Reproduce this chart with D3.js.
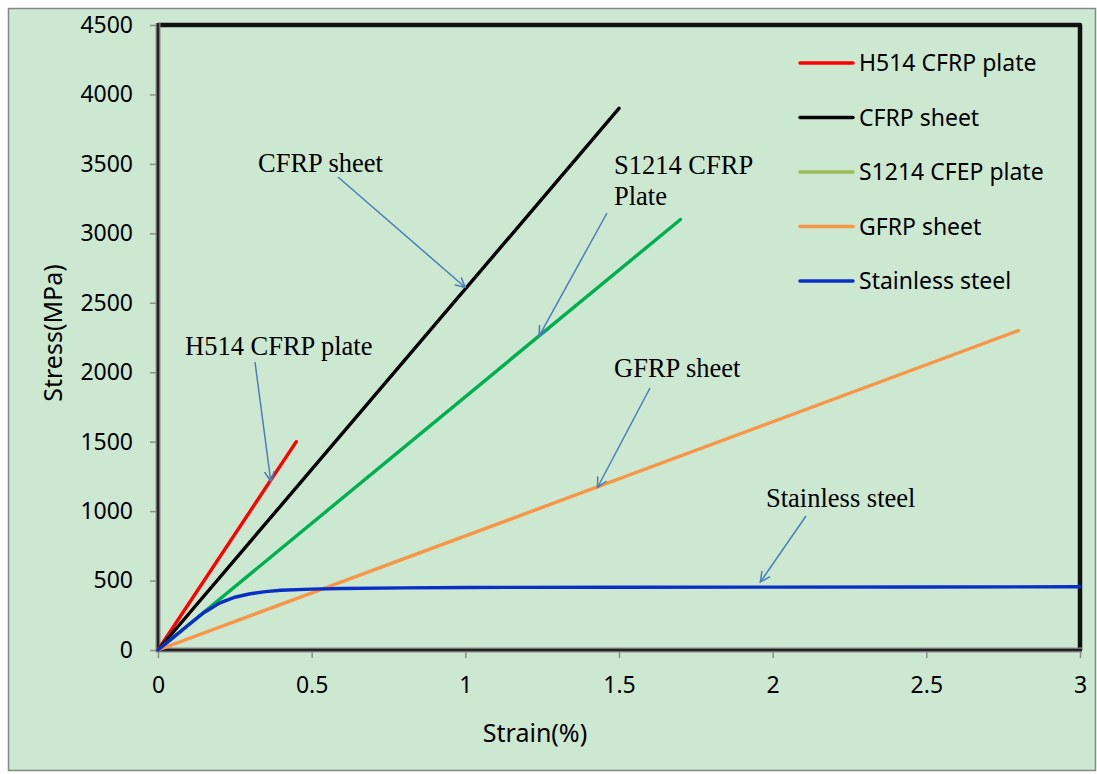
<!DOCTYPE html>
<html>
<head>
<meta charset="utf-8">
<script src="https://cdn.jsdelivr.net/npm/d3@7"></script>
<style>
  body { margin: 0; background: #fff; }
  svg { display: block; }
</style>
</head>
<body>
<svg id="chart"></svg>
<script>
var width = 1097;
var height = 774;

// series values (strain %, stress MPa)
var h514Strain = [0, 0.45];
var h514Stress = [0, 1500];
var cfrpStrain = [0, 1.5];
var cfrpStress = [0, 3900];
var s1214Strain = [0, 1.7];
var s1214Stress = [0, 3100];
var gfrpStrain = [0, 2.8];
var gfrpStress = [0, 2300];
var steelStrain = [0, 0.05, 0.1, 0.15, 0.2, 0.25, 0.3, 0.35, 0.4, 0.5, 0.6, 0.8, 1.0, 1.5, 2.0, 2.5, 3.0];
var steelStress = [0, 91, 182, 270, 338, 380, 405, 420, 430, 438, 443, 447, 450, 452, 453, 454, 455];

var seriesNames = ["H514 CFRP plate", "CFRP sheet", "S1214 CFEP plate", "GFRP sheet", "Stainless steel"];
var xTicks = [0, 0.5, 1, 1.5, 2, 2.5, 3];
var yTicks = [0, 500, 1000, 1500, 2000, 2500, 3000, 3500, 4000, 4500];

var series = [
    {name: seriesNames[0], xs: h514Strain, ys: h514Stress, color: "#ff0000", key: "#ff0000"},
    {name: seriesNames[1], xs: cfrpStrain, ys: cfrpStress, color: "#000000", key: "#000000"},
    {name: seriesNames[2], xs: s1214Strain, ys: s1214Stress, color: "#00b050", key: "#9bbb59"},
    {name: seriesNames[3], xs: gfrpStrain, ys: gfrpStress, color: "#f79646", key: "#f79646"},
    {name: seriesNames[4], xs: steelStrain, ys: steelStress, color: "#0a2fc4", key: "#0a2fc4"}
];

// annotation callouts: label lines, where text sits, arrow from / to (data coords for the tip)
var notes = [
    {lines: ["CFRP sheet"], tx: 258, ty: 172, from: [338, 177], to: [1.0, 2610]},
    {lines: ["S1214 CFRP", "Plate"], tx: 614, ty: 174, from: [607, 213], to: [1.24, 2260]},
    {lines: ["H514 CFRP plate"], tx: 185, ty: 355, from: [255, 362], to: [0.367, 1215]},
    {lines: ["GFRP sheet"], tx: 614, ty: 377, from: [650, 388], to: [1.43, 1170]},
    {lines: ["Stainless steel"], tx: 766, ty: 507, from: [806, 516], to: [1.96, 490]}
];

var plot = {left: 158, top: 25, right: 1080, bottom: 650};

var svg = d3.select("#chart").attr("width", width).attr("height", height);

svg.append("rect")
    .attr("x", 8.5).attr("y", 8.5)
    .attr("width", 1087).attr("height", 762)
    .attr("fill", "#cde8d0")
    .attr("stroke", "#878787")
    .attr("stroke-width", 1.5);

var x = d3.scaleLinear().domain([0, 3]).range([plot.left, plot.right]);
var y = d3.scaleLinear().domain([0, 4500]).range([plot.bottom, plot.top]);

svg.append("defs").append("marker")
    .attr("id", "arrow")
    .attr("viewBox", "-10 -6 12 12")
    .attr("refX", 0)
    .attr("refY", 0)
    .attr("markerWidth", 12)
    .attr("markerHeight", 12)
    .attr("markerUnits", "userSpaceOnUse")
    .attr("orient", "auto")
    .append("path")
    .attr("fill", "none")
    .attr("stroke", "#4a7ebb")
    .attr("stroke-width", 1.5)
    .attr("d", "M-10,-5L0,0L-10,5");

// frame: thick black on top and right
svg.append("path")
    .attr("d", "M" + plot.left + "," + plot.top + "H" + plot.right + "V" + plot.bottom)
    .attr("fill", "none")
    .attr("stroke", "#111")
    .attr("stroke-width", 4.5)
    .attr("stroke-linejoin", "round");

var yAxis = svg.append("g")
    .attr("transform", "translate(" + plot.left + ",0)")
    .call(d3.axisLeft(y).tickValues(yTicks).tickSize(8).tickPadding(17).tickFormat(d3.format("d")));

var xAxis = svg.append("g")
    .attr("transform", "translate(0," + plot.bottom + ")")
    .call(d3.axisBottom(x).tickValues(xTicks).tickSize(8).tickPadding(19).tickFormat(function(d) { return String(d); }));

[yAxis, xAxis].forEach(function(ax) {
    ax.select(".domain").remove();
    ax.selectAll(".tick line").attr("stroke", "#8c8c8c").attr("stroke-width", 1.5);
    ax.selectAll(".tick text")
        .attr("fill", "#000")
        .style("font-family", "'Noto Sans', sans-serif")
        .style("font-size", "23px");
});

// left and bottom axis lines: dark with grey edge
var axisPath = "M" + plot.left + "," + (plot.top - 2) + "V" + plot.bottom + "H" + (plot.right + 2);
svg.append("path").attr("d", axisPath).attr("fill", "none")
    .attr("stroke", "#8c8c8c").attr("stroke-width", 5);
svg.append("path").attr("d", axisPath).attr("fill", "none")
    .attr("stroke", "#222").attr("stroke-width", 2.5);

var line = d3.line()
    .x(function(d) { return x(d[0]); })
    .y(function(d) { return y(d[1]); });

svg.append("g").selectAll("path")
    .data(series)
    .enter().append("path")
    .attr("d", function(s) { return line(s.xs.map(function(v, i) { return [v, s.ys[i]]; })); })
    .attr("fill", "none")
    .attr("stroke", function(s) { return s.color; })
    .attr("stroke-width", 3.4)
    .attr("stroke-linecap", "round");

// callouts
var note = svg.append("g").selectAll("g").data(notes).enter().append("g");
note.append("line")
    .attr("x1", function(d) { return d.from[0]; })
    .attr("y1", function(d) { return d.from[1]; })
    .attr("x2", function(d) { return x(d.to[0]); })
    .attr("y2", function(d) { return y(d.to[1]); })
    .attr("stroke", "#4a7ebb")
    .attr("stroke-width", 1.5)
    .attr("marker-end", "url(#arrow)");
note.each(function(d) {
    var t = d3.select(this).append("text")
        .attr("x", d.tx).attr("y", d.ty)
        .style("font-family", "'Liberation Serif', 'Times New Roman', serif")
        .style("font-size", "26.5px")
        .attr("fill", "#000");
    d.lines.forEach(function(l, i) {
        t.append("tspan").attr("x", d.tx).attr("dy", i ? 31 : 0).text(l);
    });
});

// legend
var legend = svg.append("g").selectAll("g")
    .data(series)
    .enter().append("g")
    .attr("transform", function(d, i) { return "translate(800," + (63 + i * 54.5) + ")"; });
legend.append("line")
    .attr("x1", 0).attr("x2", 53)
    .attr("stroke", function(d) { return d.key; })
    .attr("stroke-width", 3.5)
    .attr("stroke-linecap", "round");
legend.append("text")
    .attr("x", 59).attr("dy", "0.35em")
    .style("font-family", "'Noto Sans', sans-serif")
    .style("font-size", "23px")
    .attr("fill", "#000")
    .text(function(d) { return d.name; });

// axis titles
svg.append("text")
    .attr("transform", "translate(62,333) rotate(-90)")
    .attr("text-anchor", "middle")
    .style("font-family", "'Noto Sans', sans-serif")
    .style("font-size", "25px")
    .text("Stress(MPa)");
svg.append("text")
    .attr("x", 535).attr("y", 742)
    .attr("text-anchor", "middle")
    .style("font-family", "'Noto Sans', sans-serif")
    .style("font-size", "25px")
    .text("Strain(%)");
</script>
</body>
</html>
